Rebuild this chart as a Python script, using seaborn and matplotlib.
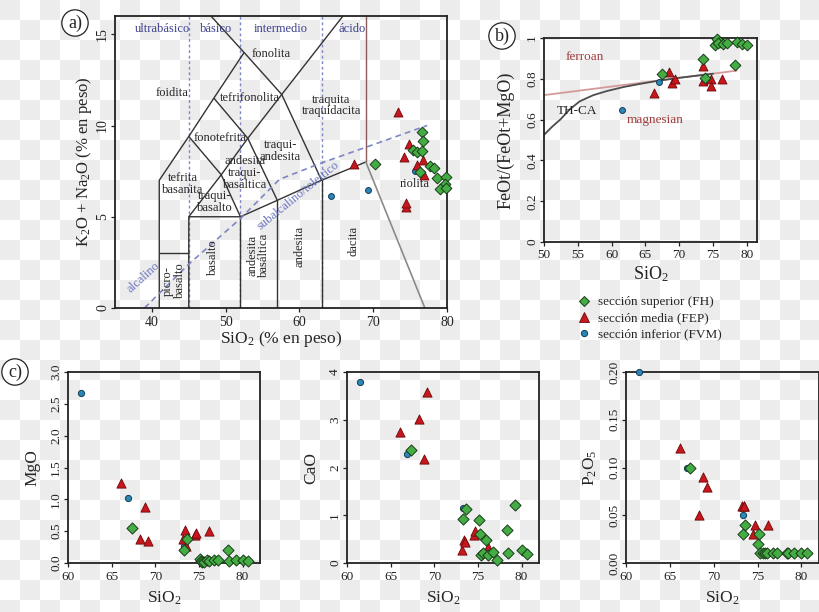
import numpy as np
import matplotlib
matplotlib.use('Agg')
import matplotlib.pyplot as plt
import seaborn as sns
from matplotlib.lines import Line2D

sns.set_style('ticks')
plt.rcParams['font.family'] = ['Liberation Serif', 'DejaVu Serif']
plt.rcParams['mathtext.fontset'] = 'custom'
plt.rcParams['mathtext.rm'] = 'Liberation Serif'
plt.rcParams['mathtext.it'] = 'Liberation Serif:italic'
plt.rcParams['mathtext.bf'] = 'Liberation Serif:bold'

# ---------------- data ----------------
group_labels = ['sección superior (FH)', 'sección media (FEP)', 'sección inferior (FVM)']

# a) TAS
tas_fh_sio2 = [70.2, 76.55, 76.8, 75.4, 75.9, 76.55, 77.7, 78.2, 76.3, 78.6, 79.9, 79.7, 79.0, 79.9]
tas_fh_alk = [7.87, 9.67, 9.17, 8.66, 8.54, 8.62, 7.8, 7.68, 7.44, 7.13, 7.2, 6.77, 6.53, 6.6]
tas_fep_sio2 = [67.35, 73.4, 74.9, 74.15, 76.8, 75.9, 76.9, 74.4, 74.4]
tas_fep_alk = [7.89, 10.76, 8.98, 8.26, 8.1, 7.85, 7.31, 5.56, 5.75]
tas_fvm_sio2 = [64.3, 69.3, 75.6]
tas_fvm_alk = [6.11, 6.44, 7.53]

# TAS field boundaries (SiO2, alkalis)
tas_lines_x = [[41, 41, 45, 48.4, 52.5],
               [48.0, 52.5, 57.6, 63],
               [41, 45],
               [45, 45, 52, 57, 63, 69],
               [45, 49.4, 52],
               [45, 49.4, 53, 57.6, 65.9],
               [48.4, 53, 57],
               [52, 52], [57, 57], [63, 63]]
tas_lines_y = [[0, 7, 9.4, 11.5, 14],
               [16, 14, 11.7, 7],
               [3, 3],
               [0, 5, 5, 5.9, 7, 8],
               [5, 7.3, 5],
               [9.4, 7.3, 9.3, 11.7, 16],
               [11.5, 9.3, 5.9],
               [0, 5], [0, 5.9], [0, 7]]
rhy_vert_x, rhy_vert_y = [69, 69], [8, 16]
rhy_dac_x, rhy_dac_y = [69, 77], [8, 0]
zone_div_sio2 = [45, 52, 63]
alk_curve_sio2 = [39.0, 45, 52, 57.3, 63, 70, 77.3]
alk_curve_alk = [0, 2.4, 4.9, 7.05, 7.95, 8.95, 10.0]

field_names = ['foidita', 'fonolita', 'tefrifonolita', 'fonotefrita', 'traquita\ntraquidacita',
               'traqui-\nandesita', 'andesita\ntraqui-\nbasáltica', 'tefrita\nbasanita',
               'traqui-\nbasalto', 'riolita']
field_x = [42.7, 56.2, 53.3, 49.3, 64.3, 57.4, 52.6, 44.2, 48.5, 75.6]
field_y = [11.8, 13.9, 11.5, 9.3, 11.1, 8.6, 7.4, 6.8, 5.8, 6.8]
vfield_names = ['picro-\nbasalto', 'basalto', 'andesita\nbasáltica', 'andesita', 'dacita']
vfield_x = [43.0, 48.3, 54.4, 60.0, 67.3]
vfield_y = [1.5, 2.8, 2.9, 3.4, 3.7]
zone_names = ['ultrabásico', 'básico', 'intermedio', 'ácido']
zone_x = [41.4, 48.7, 57.5, 67.2]
zone_y = [15.3, 15.3, 15.3, 15.3]

# b) FeOt/(FeOt+MgO)
b_fh_sio2 = [67.4, 73.5, 73.8, 75.3, 75.65, 76.05, 75.8, 76.5, 77.0, 78.5, 79.3, 80.0, 78.3]
b_fh_ratio = [0.822, 0.896, 0.806, 0.965, 0.995, 0.982, 0.975, 0.97, 0.975, 0.98, 0.97, 0.965, 0.867]
b_fep_sio2 = [66.2, 68.5, 69.0, 69.4, 73.5, 73.5, 74.7, 74.7, 76.3]
b_fep_ratio = [0.732, 0.834, 0.778, 0.80, 0.864, 0.79, 0.80, 0.765, 0.80]
b_fvm_sio2 = [61.6, 67.0]
b_fvm_ratio = [0.645, 0.786]
ferroan_sio2 = [50, 78.5]
ferroan_ratio = [0.72, 0.84]
thca_sio2 = [50, 51.2, 52.4, 53.8, 55.3, 57.3, 59.3, 61.8, 64.2, 66.8, 70, 75]
thca_ratio = [0.525, 0.565, 0.60, 0.65, 0.69, 0.72, 0.74, 0.76, 0.775, 0.79, 0.805, 0.825]

# c) Harker diagrams
c_fh_sio2 = [67.3, 73.3, 73.6, 75.1, 75.2, 75.3, 75.6, 75.9, 76.1, 76.7, 77.2, 78.3, 78.5, 79.2, 80.0, 80.6]
c_fh_mgo = [0.55, 0.21, 0.38, 0.07, 0.03, 0.02, 0.02, 0.04, 0.03, 0.04, 0.04, 0.21, 0.03, 0.05, 0.04, 0.03]
c_fh_cao = [2.37, 0.92, 1.13, 0.91, 0.60, 0.16, 0.20, 0.48, 0.16, 0.23, 0.06, 0.69, 0.20, 1.21, 0.28, 0.19]
c_fh_p2o5 = [0.10, 0.03, 0.04, 0.02, 0.03, 0.01, 0.01, 0.01, 0.01, 0.01, 0.01, 0.01, 0.01, 0.01, 0.01, 0.01]
c_fep_sio2 = [66.1, 68.3, 68.8, 69.2, 73.2, 73.4, 73.5, 74.5, 74.7, 76.2]
c_fep_mgo = [1.25, 0.37, 0.88, 0.35, 0.38, 0.52, 0.26, 0.44, 0.47, 0.51]
c_fep_cao = [2.74, 3.02, 2.17, 3.59, 0.27, 0.48, 0.43, 0.58, 0.67, 0.34]
c_fep_p2o5 = [0.12, 0.05, 0.09, 0.08, 0.06, 0.06, 0.06, 0.03, 0.04, 0.04]
c_fvm_sio2 = [61.5, 66.9, 73.3]
c_fvm_mgo = [2.67, 1.02, 0.27]
c_fvm_cao = [3.80, 2.29, 1.16]
c_fvm_p2o5 = [0.20, 0.10, 0.05]

# ---------------- style ----------------
GREEN, GREEN_E = '#43ad43', '#1a3a1a'
RED, RED_E = '#c8161d', '#6a0a0a'
BLUE, BLUE_E = '#2c86b8', '#123c55'
ZONE_C = '#7f86c4'
ZTEXT_C = '#3c3f8f'
LINE_C = '#333333'

W, H = 820, 612
fig = plt.figure(figsize=(8.2, 6.12), dpi=100)
fig.patch.set_facecolor('white')

# transparent-style checkerboard backdrop
sq = 20
yy, xx = np.mgrid[0:H, 0:W]
chk = np.where(((xx // sq + yy // sq) % 2) == 0, 0.925, 1.0)
fig.figimage(chk, cmap='gray', vmin=0, vmax=1, origin='upper', zorder=-10)


def box(l, t, r, b):
    return [l / W, 1 - b / H, (r - l) / W, (b - t) / H]


def style_axes(ax, tick_fs, pad_x=2.5, pad_y=1.2):
    ax.set_facecolor('none')
    for s in ax.spines.values():
        s.set_visible(True)
        s.set_linewidth(1.3)
        s.set_color('#222222')
    ax.tick_params(direction='out', length=3, width=0.9, colors='#222222', labelsize=tick_fs)
    ax.tick_params(axis='x', pad=pad_x)
    ax.tick_params(axis='y', pad=pad_y, labelrotation=90)
    for t in ax.get_yticklabels():
        t.set_va('center')


def place_labels(ax, l, t, r, b, xlab_y, ylab_x):
    ax.xaxis.label.set_va('center')
    ax.yaxis.label.set_va('center')
    ax.xaxis.set_label_coords(0.5, -(xlab_y - b) / (b - t))
    ax.yaxis.set_label_coords(-(l - ylab_x) / (r - l), 0.5)


def scatter_groups(ax, fh, fep, fvm, s_d, s_t, s_c):
    sns.scatterplot(x=fvm[0], y=fvm[1], ax=ax, marker='o', s=s_c, color=BLUE, edgecolor=BLUE_E,
                    linewidth=0.7, zorder=5, clip_on=False, legend=False)
    sns.scatterplot(x=fep[0], y=fep[1], ax=ax, marker='^', s=s_t, color=RED, edgecolor=RED_E,
                    linewidth=0.6, zorder=6, clip_on=False, legend=False)
    sns.scatterplot(x=fh[0], y=fh[1], ax=ax, marker='D', s=s_d, color=GREEN, edgecolor=GREEN_E,
                    linewidth=0.7, zorder=7, clip_on=False, legend=False)


# ---------------- a) TAS ----------------
pa = (115, 16, 447, 308)
axA = fig.add_axes(box(*pa))
axA.set_xlim(35, 80)
axA.set_ylim(0, 16)
for xv in zone_div_sio2:
    axA.plot([xv, xv], [0, 16], color=ZONE_C, lw=1.0, ls=(0, (2, 2)), zorder=1)
for xs, ys in zip(tas_lines_x, tas_lines_y):
    axA.plot(xs, ys, color=LINE_C, lw=1.0, zorder=2, solid_capstyle='butt')
axA.plot(rhy_vert_x, rhy_vert_y, color='#8c5a5a', lw=1.0, zorder=2)
axA.plot(rhy_dac_x, rhy_dac_y, color='#8a8a8a', lw=1.2, zorder=2)
axA.plot(alk_curve_sio2, alk_curve_alk, color=ZONE_C, lw=1.2, ls=(0, (3.5, 2.5)), zorder=2)
for n, x, y in zip(field_names, field_x, field_y):
    axA.text(x, y, n, ha='center', va='center', fontsize=9, linespacing=0.95, zorder=3)
for n, x, y in zip(vfield_names, vfield_x, vfield_y):
    axA.text(x, y, n, ha='center', va='center', fontsize=9, rotation=90, linespacing=0.95, zorder=3)
for n, x, y in zip(zone_names, zone_x, zone_y):
    axA.text(x, y, n, ha='center', va='center', fontsize=9, color=ZTEXT_C, zorder=3)
axA.text(59.8, 6.15, 'subalcalino/toleítico', ha='center', va='center', fontsize=9,
         color='#6a74c0', rotation=39, zorder=3)
axA.text(38.9, 1.7, 'alcalino', ha='center', va='center', fontsize=9,
         color='#6a74c0', rotation=42, zorder=3)
scatter_groups(axA, (tas_fh_sio2, tas_fh_alk), (tas_fep_sio2, tas_fep_alk),
               (tas_fvm_sio2, tas_fvm_alk), 30, 42, 18)
axA.set_xticks([40, 50, 60, 70, 80])
axA.set_yticks([0, 5, 10, 15])
axA.set_xlabel('SiO$_2$ (% en peso)', fontsize=12.5)
axA.set_ylabel('K$_2$O + Na$_2$O (% en peso)', fontsize=12)
style_axes(axA, 10)
place_labels(axA, *pa, xlab_y=339, ylab_x=84)

# ---------------- b) ----------------
pb = (544, 38, 757, 242)
axB = fig.add_axes(box(*pb))
axB.set_xlim(50, 81.5)
axB.set_ylim(0, 1.0)
axB.plot(ferroan_sio2, ferroan_ratio, color='#d49a9a', lw=1.3, zorder=2)
axB.plot(thca_sio2, thca_ratio, color='#4d4d4d', lw=1.3, zorder=2)
axB.text(56.0, 0.905, 'ferroan', ha='center', va='center', fontsize=9.5, color='#a03c3c')
axB.text(54.9, 0.64, 'TH-CA', ha='center', va='center', fontsize=9.5, color='#222222')
axB.text(66.4, 0.60, 'magnesian', ha='center', va='center', fontsize=9.5, color='#a03c3c')
scatter_groups(axB, (b_fh_sio2, b_fh_ratio), (b_fep_sio2, b_fep_ratio),
               (b_fvm_sio2, b_fvm_ratio), 30, 42, 18)
axB.set_xticks([50, 55, 60, 65, 70, 75, 80])
axB.set_yticks([0, 0.2, 0.4, 0.6, 0.8, 1.0])
axB.set_yticklabels(['0', '0.2', '0.4', '0.6', '0.8', '1'])
axB.set_xlabel('SiO$_2$', fontsize=13)
axB.set_ylabel('FeOt/(FeOt+MgO)', fontsize=13)
style_axes(axB, 9.5, pad_x=2)
place_labels(axB, *pb, xlab_y=274, ylab_x=506)

# ---------------- legend ----------------
handles = [Line2D([], [], ls='none', marker='D', markersize=5, markerfacecolor=GREEN, markeredgecolor=GREEN_E, markeredgewidth=0.7),
           Line2D([], [], ls='none', marker='^', markersize=7, markerfacecolor=RED, markeredgecolor=RED_E, markeredgewidth=0.6),
           Line2D([], [], ls='none', marker='o', markersize=4.5, markerfacecolor=BLUE, markeredgecolor=BLUE_E, markeredgewidth=0.7)]
fig.legend(handles, group_labels, loc='upper left', bbox_to_anchor=(577 / W, 1 - 296 / H),
           frameon=False, fontsize=9.5, handlelength=1.0, handletextpad=0.6,
           labelspacing=0.3, borderaxespad=0, borderpad=0)

# ---------------- c) Harker ----------------
c_boxes = [(68, 372, 260, 563), (347, 372, 539, 563), (626, 372, 819, 563)]
c_y = [(c_fh_mgo, c_fep_mgo, c_fvm_mgo), (c_fh_cao, c_fep_cao, c_fvm_cao),
       (c_fh_p2o5, c_fep_p2o5, c_fvm_p2o5)]
c_ylabels = ['MgO', 'CaO', 'P$_2$O$_5$']
c_ylims = [(0, 3.0), (0, 4), (0, 0.2)]
c_yticks = [[0, 0.5, 1.0, 1.5, 2.0, 2.5, 3.0], [0, 1, 2, 3, 4], [0, 0.05, 0.10, 0.15, 0.20]]
c_yfmt = ['{:.1f}', '{:.0f}', '{:.2f}']
c_ylab_dx = [36, 36, 36]
for pc, (fh, fep, fvm), yl, ylim, yt, fmt, dx in zip(c_boxes, c_y, c_ylabels, c_ylims, c_yticks, c_yfmt, c_ylab_dx):
    ax = fig.add_axes(box(*pc))
    ax.set_xlim(60, 82)
    ax.set_ylim(*ylim)
    scatter_groups(ax, (c_fh_sio2, fh), (c_fep_sio2, fep), (c_fvm_sio2, fvm), 32, 44, 20)
    ax.set_xticks([60, 65, 70, 75, 80])
    ax.set_yticks(yt)
    ax.set_yticklabels([fmt.format(v) for v in yt])
    ax.set_xlabel('SiO$_2$', fontsize=12.5)
    ax.set_ylabel(yl, fontsize=12.5)
    style_axes(ax, 9.5)
    place_labels(ax, *pc, xlab_y=598, ylab_x=pc[0] - dx)

# ---------------- panel tags ----------------
circ = dict(boxstyle='circle,pad=0.25', fc='white', ec='#222222', lw=0.9)
fig.text(75 / W, 1 - 23 / H, 'a)', ha='center', va='center', fontsize=13, bbox=circ)
fig.text(502 / W, 1 - 36 / H, 'b)', ha='center', va='center', fontsize=13, bbox=circ)
fig.text(15 / W, 1 - 372 / H, 'c)', ha='center', va='center', fontsize=13, bbox=circ)

fig.savefig('out.png', dpi=100)
